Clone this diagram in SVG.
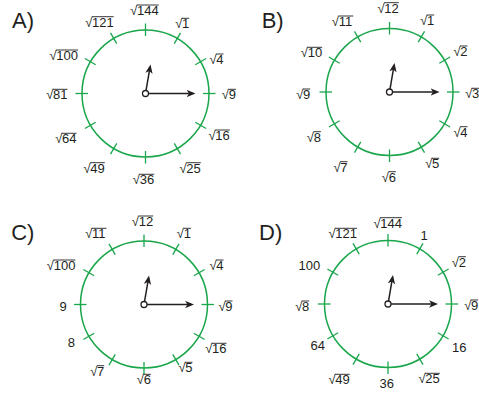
<svg xmlns="http://www.w3.org/2000/svg" xmlns:xlink="http://www.w3.org/1999/xlink" width="479" height="399" viewBox="0 0 479 399">
<style>
.t{font-family:"Liberation Sans",Arial,Helvetica,sans-serif;font-size:13px;fill:#231f20}
.big{font-size:22px}
.v{stroke:#231f20;stroke-width:0.9}
.ring{fill:none;stroke:#1aa64b;stroke-width:1.5}
.tick{stroke:#1aa64b;stroke-width:1.3}
.hand{stroke:#231f20;stroke-width:1.5;marker-end:url(#ah)}
.pivot{fill:#fff;stroke:#231f20;stroke-width:1.3}
</style>
<defs>
<marker id="ah" markerUnits="userSpaceOnUse" markerWidth="10" markerHeight="8" refX="6" refY="4" orient="auto">
<path d="M0,0.3 L9,4 L0,7.7 L2.5,4 Z" fill="#231f20"/>
</marker>
<g id="face">
<circle class="ring" cx="0" cy="0" r="63.5"/>
<g class="tick">
<line x1="0" y1="-57.5" x2="0" y2="-70"/>
<line x1="28.75" y1="-49.8" x2="35" y2="-60.62"/>
<line x1="49.8" y1="-28.75" x2="60.62" y2="-35"/>
<line x1="57.5" y1="0" x2="70" y2="0"/>
<line x1="49.8" y1="28.75" x2="60.62" y2="35"/>
<line x1="28.75" y1="49.8" x2="35" y2="60.62"/>
<line x1="0" y1="57.5" x2="0" y2="70"/>
<line x1="-28.75" y1="49.8" x2="-35" y2="60.62"/>
<line x1="-49.8" y1="28.75" x2="-60.62" y2="35"/>
<line x1="-57.5" y1="0" x2="-70" y2="0"/>
<line x1="-49.8" y1="-28.75" x2="-60.62" y2="-35"/>
<line x1="-28.75" y1="-49.8" x2="-35" y2="-60.62"/>
</g>
<line class="hand" x1="3" y1="0" x2="47" y2="0"/>
<line class="hand" x1="0.51" y1="-2.96" x2="4.49" y2="-26.04"/>
<circle class="pivot" cx="0" cy="0" r="3"/>
</g>
</defs>

<g id="clock-a">
<text class="t big" x="12" y="28.3">A)</text>
<use xlink:href="#face" href="#face" transform="translate(145.5,93.5)"/>
<g class="t">
<text x="137" y="15">144</text><text x="137.3" y="15" text-anchor="end">√</text><line class="v" x1="136.8" y1="5" x2="158.7" y2="5"/>
<text x="182" y="28.3">1</text><text x="182.3" y="28.3" text-anchor="end">√</text><line class="v" x1="181.8" y1="18.3" x2="189.2" y2="18.3"/>
<text x="216.3" y="64">4</text><text x="216.6" y="64" text-anchor="end">√</text><line class="v" x1="216.1" y1="54" x2="223.5" y2="54"/>
<text x="228.7" y="99.3">9</text><text x="229" y="99.3" text-anchor="end">√</text><line class="v" x1="228.5" y1="89.3" x2="235.9" y2="89.3"/>
<text x="215.3" y="140">16</text><text x="215.6" y="140" text-anchor="end">√</text><line class="v" x1="215.1" y1="130" x2="229.8" y2="130"/>
<text x="186.3" y="172.7">25</text><text x="186.6" y="172.7" text-anchor="end">√</text><line class="v" x1="186.1" y1="162.7" x2="200.8" y2="162.7"/>
<text x="139.7" y="184.3">36</text><text x="140" y="184.3" text-anchor="end">√</text><line class="v" x1="139.5" y1="174.3" x2="154.2" y2="174.3"/>
<text x="90.3" y="172.7">49</text><text x="90.6" y="172.7" text-anchor="end">√</text><line class="v" x1="90.1" y1="162.7" x2="104.8" y2="162.7"/>
<text x="62" y="143.3">64</text><text x="62.3" y="143.3" text-anchor="end">√</text><line class="v" x1="61.8" y1="133.3" x2="76.5" y2="133.3"/>
<text x="53" y="99.3">81</text><text x="53.3" y="99.3" text-anchor="end">√</text><line class="v" x1="52.8" y1="89.3" x2="67.5" y2="89.3"/>
<text x="56.3" y="60">100</text><text x="56.6" y="60" text-anchor="end">√</text><line class="v" x1="56.1" y1="50" x2="78" y2="50"/>
<text x="92" y="26.7">121</text><text x="92.3" y="26.7" text-anchor="end">√</text><line class="v" x1="91.8" y1="16.7" x2="113.7" y2="16.7"/>
</g>
</g>

<g id="clock-b">
<text class="t big" x="261.7" y="28.3">B)</text>
<use xlink:href="#face" href="#face" transform="translate(389.5,92)"/>
<g class="t">
<text x="384.3" y="12.7">12</text><text x="384.6" y="12.7" text-anchor="end">√</text><line class="v" x1="384.1" y1="2.7" x2="398.8" y2="2.7"/>
<text x="427" y="25">1</text><text x="427.3" y="25" text-anchor="end">√</text><line class="v" x1="426.8" y1="15" x2="434.2" y2="15"/>
<text x="460.3" y="56">2</text><text x="460.6" y="56" text-anchor="end">√</text><line class="v" x1="460.1" y1="46" x2="467.5" y2="46"/>
<text x="472" y="98.3">3</text><text x="472.3" y="98.3" text-anchor="end">√</text><line class="v" x1="471.8" y1="88.3" x2="479.2" y2="88.3"/>
<text x="460.3" y="136.7">4</text><text x="460.6" y="136.7" text-anchor="end">√</text><line class="v" x1="460.1" y1="126.7" x2="467.5" y2="126.7"/>
<text x="432" y="168.3">5</text><text x="432.3" y="168.3" text-anchor="end">√</text><line class="v" x1="431.8" y1="158.3" x2="439.2" y2="158.3"/>
<text x="388.7" y="181.7">6</text><text x="389" y="181.7" text-anchor="end">√</text><line class="v" x1="388.5" y1="171.7" x2="395.9" y2="171.7"/>
<text x="340.3" y="171.7">7</text><text x="340.6" y="171.7" text-anchor="end">√</text><line class="v" x1="340.1" y1="161.7" x2="347.5" y2="161.7"/>
<text x="313.7" y="141.7">8</text><text x="314" y="141.7" text-anchor="end">√</text><line class="v" x1="313.5" y1="131.7" x2="320.9" y2="131.7"/>
<text x="303" y="99">9</text><text x="303.3" y="99" text-anchor="end">√</text><line class="v" x1="302.8" y1="89" x2="310.2" y2="89"/>
<text x="307.7" y="57.3">10</text><text x="308" y="57.3" text-anchor="end">√</text><line class="v" x1="307.5" y1="47.3" x2="322.2" y2="47.3"/>
<text x="338.7" y="26">11</text><text x="339" y="26" text-anchor="end">√</text><line class="v" x1="338.5" y1="16" x2="353.2" y2="16"/>
</g>
</g>

<g id="clock-c">
<text class="t big" x="11.2" y="240">C)</text>
<use xlink:href="#face" href="#face" transform="translate(144,304.5)"/>
<g class="t">
<text x="138.7" y="226">12</text><text x="139" y="226" text-anchor="end">√</text><line class="v" x1="138.5" y1="216" x2="153.2" y2="216"/>
<text x="183.7" y="238.3">1</text><text x="184" y="238.3" text-anchor="end">√</text><line class="v" x1="183.5" y1="228.3" x2="190.9" y2="228.3"/>
<text x="216.3" y="270">4</text><text x="216.6" y="270" text-anchor="end">√</text><line class="v" x1="216.1" y1="260" x2="223.5" y2="260"/>
<text x="225.3" y="311">9</text><text x="225.6" y="311" text-anchor="end">√</text><line class="v" x1="225.1" y1="301" x2="232.5" y2="301"/>
<text x="212" y="353.3">16</text><text x="212.3" y="353.3" text-anchor="end">√</text><line class="v" x1="211.8" y1="343.3" x2="226.5" y2="343.3"/>
<text x="185.3" y="372.3">5</text><text x="185.6" y="372.3" text-anchor="end">√</text><line class="v" x1="185.1" y1="362.3" x2="192.5" y2="362.3"/>
<text x="143.7" y="384.3">6</text><text x="144" y="384.3" text-anchor="end">√</text><line class="v" x1="143.5" y1="374.3" x2="150.9" y2="374.3"/>
<text x="97" y="375.7">7</text><text x="97.3" y="375.7" text-anchor="end">√</text><line class="v" x1="96.8" y1="365.7" x2="104.2" y2="365.7"/>
<text x="67.8" y="346.7">8</text>
<text x="59.5" y="311">9</text>
<text x="53.7" y="270">100</text><text x="54" y="270" text-anchor="end">√</text><line class="v" x1="53.5" y1="260" x2="75.4" y2="260"/>
<text x="92" y="238.3">11</text><text x="92.3" y="238.3" text-anchor="end">√</text><line class="v" x1="91.8" y1="228.3" x2="106.5" y2="228.3"/>
</g>
</g>

<g id="clock-d">
<text class="t big" x="259.1" y="240">D)</text>
<use xlink:href="#face" href="#face" transform="translate(388,304)"/>
<g class="t">
<text x="380.3" y="227.7">144</text><text x="380.6" y="227.7" text-anchor="end">√</text><line class="v" x1="380.1" y1="217.7" x2="402" y2="217.7"/>
<text x="420.5" y="240">1</text>
<text x="458.7" y="266.7">2</text><text x="459" y="266.7" text-anchor="end">√</text><line class="v" x1="458.5" y1="256.7" x2="465.9" y2="256.7"/>
<text x="471" y="310">9</text><text x="471.3" y="310" text-anchor="end">√</text><line class="v" x1="470.8" y1="300" x2="478.2" y2="300"/>
<text x="452" y="351.7">16</text>
<text x="425.3" y="383.3">25</text><text x="425.6" y="383.3" text-anchor="end">√</text><line class="v" x1="425.1" y1="373.3" x2="439.8" y2="373.3"/>
<text x="379.5" y="388.3">36</text>
<text x="335.3" y="384.3">49</text><text x="335.6" y="384.3" text-anchor="end">√</text><line class="v" x1="335.1" y1="374.3" x2="349.8" y2="374.3"/>
<text x="310.5" y="350">64</text>
<text x="302" y="311">8</text><text x="302.3" y="311" text-anchor="end">√</text><line class="v" x1="301.8" y1="301" x2="309.2" y2="301"/>
<text x="298.6" y="270">100</text>
<text x="335.3" y="238.3">121</text><text x="335.6" y="238.3" text-anchor="end">√</text><line class="v" x1="335.1" y1="228.3" x2="357" y2="228.3"/>
</g>
</g>
</svg>
